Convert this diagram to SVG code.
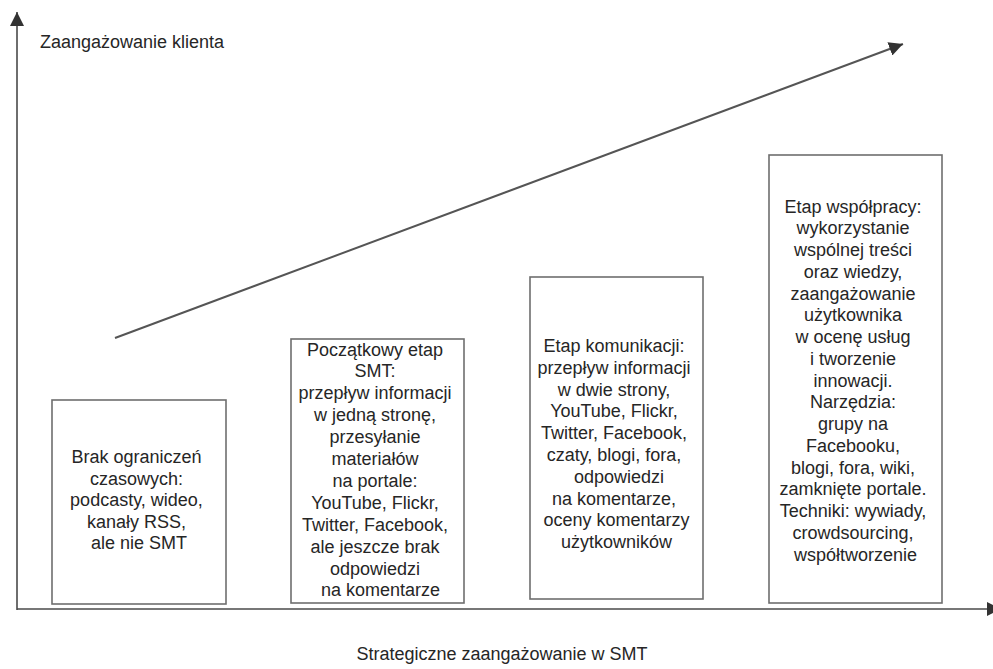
<svg xmlns="http://www.w3.org/2000/svg" width="993" height="669" viewBox="0 0 993 669">
<style>
  text { font-family: "Liberation Sans", Arial, sans-serif; font-size: 18px; fill: #262626; }
  .box { fill: #ffffff; stroke: #6e6e6e; stroke-width: 1.6; }
  .axis { stroke: #4a4a4a; stroke-width: 1.6; fill: none; }
  .trend { stroke: #555555; stroke-width: 2; fill: none; }
  .c { text-anchor: middle; }
</style>
<defs>
  <marker id="arrow" viewBox="0 0 14 14" refX="14" refY="7" markerWidth="14" markerHeight="14" markerUnits="userSpaceOnUse" orient="auto">
    <path d="M0,0 L14,7 L0,14 z" fill="#333333"/>
  </marker>
</defs>
<rect width="993" height="669" fill="#ffffff"/>
<g id="connectors">
  <line class="axis" x1="17" y1="610" x2="17" y2="12" marker-end="url(#arrow)"/>
  <line class="axis" x1="17" y1="609" x2="1001" y2="609" marker-end="url(#arrow)"/>
  <line class="trend" x1="115" y1="338" x2="903" y2="44" marker-end="url(#arrow)"/>
</g>
<g id="label-y">
  <text x="40" y="48">Zaangażowanie klienta</text>
</g>
<g id="label-x">
  <text class="c" x="502" y="660">Strategiczne zaangażowanie w SMT</text>
</g>
<g id="node1">
  <rect class="box" x="52" y="400" width="174" height="204"/>
  <text class="c" x="139" y="463">
    <tspan x="139">Brak ograniczeń</tspan>
    <tspan x="139" dy="21.6">czasowych:</tspan>
    <tspan x="139" dy="21.6">podcasty, wideo,</tspan>
    <tspan x="139" dy="21.6">kanały RSS,</tspan>
    <tspan x="139" dy="21.6">ale nie SMT</tspan>
  </text>
</g>
<g id="node2">
  <rect class="box" x="291" y="339" width="173" height="264"/>
  <text class="c" x="377.5" y="355.5">
    <tspan x="377.5">Początkowy etap</tspan>
    <tspan x="377.5" dy="21.9">SMT:</tspan>
    <tspan x="377.5" dy="21.9">przepływ informacji</tspan>
    <tspan x="377.5" dy="21.9">w jedną stronę,</tspan>
    <tspan x="377.5" dy="21.9">przesyłanie</tspan>
    <tspan x="377.5" dy="21.9">materiałów</tspan>
    <tspan x="377.5" dy="21.9">na portale:</tspan>
    <tspan x="377.5" dy="21.9">YouTube, Flickr,</tspan>
    <tspan x="377.5" dy="21.9">Twitter, Facebook,</tspan>
    <tspan x="377.5" dy="21.9">ale jeszcze brak</tspan>
    <tspan x="377.5" dy="21.9">odpowiedzi</tspan>
    <tspan x="380.5" dy="21.9">na komentarze</tspan>
  </text>
</g>
<g id="node3">
  <rect class="box" x="530" y="277" width="173" height="322"/>
  <text class="c" x="616.5" y="352">
    <tspan x="616.5">Etap komunikacji:</tspan>
    <tspan x="616.5" dy="21.8">przepływ informacji</tspan>
    <tspan x="616.5" dy="21.8">w dwie strony,</tspan>
    <tspan x="616.5" dy="21.8">YouTube, Flickr,</tspan>
    <tspan x="616.5" dy="21.8">Twitter, Facebook,</tspan>
    <tspan x="616.5" dy="21.8">czaty, blogi, fora,</tspan>
    <tspan x="621.5" dy="21.8">odpowiedzi</tspan>
    <tspan x="616.5" dy="21.8">na komentarze,</tspan>
    <tspan x="619" dy="21.8">oceny komentarzy</tspan>
    <tspan x="616.5" dy="21.8">użytkowników</tspan>
  </text>
</g>
<g id="node4">
  <rect class="box" x="769" y="155" width="173" height="448"/>
  <text class="c" x="855.5" y="212.5">
    <tspan x="855.5">Etap współpracy:</tspan>
    <tspan x="855.5" dy="21.75">wykorzystanie</tspan>
    <tspan x="855.5" dy="21.75">wspólnej treści</tspan>
    <tspan x="855.5" dy="21.75">oraz wiedzy,</tspan>
    <tspan x="855.5" dy="21.75">zaangażowanie</tspan>
    <tspan x="855.5" dy="21.75">użytkownika</tspan>
    <tspan x="855.5" dy="21.75">w ocenę usług</tspan>
    <tspan x="855.5" dy="21.75">i tworzenie</tspan>
    <tspan x="855.5" dy="21.75">innowacji.</tspan>
    <tspan x="855.5" dy="21.75">Narzędzia:</tspan>
    <tspan x="855.5" dy="21.75">grupy na</tspan>
    <tspan x="855.5" dy="21.75">Facebooku,</tspan>
    <tspan x="855.5" dy="21.75">blogi, fora, wiki,</tspan>
    <tspan x="855.5" dy="21.75">zamknięte portale.</tspan>
    <tspan x="855.5" dy="21.75">Techniki: wywiady,</tspan>
    <tspan x="855.5" dy="21.75">crowdsourcing,</tspan>
    <tspan x="855.5" dy="21.75">współtworzenie</tspan>
  </text>
</g>
</svg>
